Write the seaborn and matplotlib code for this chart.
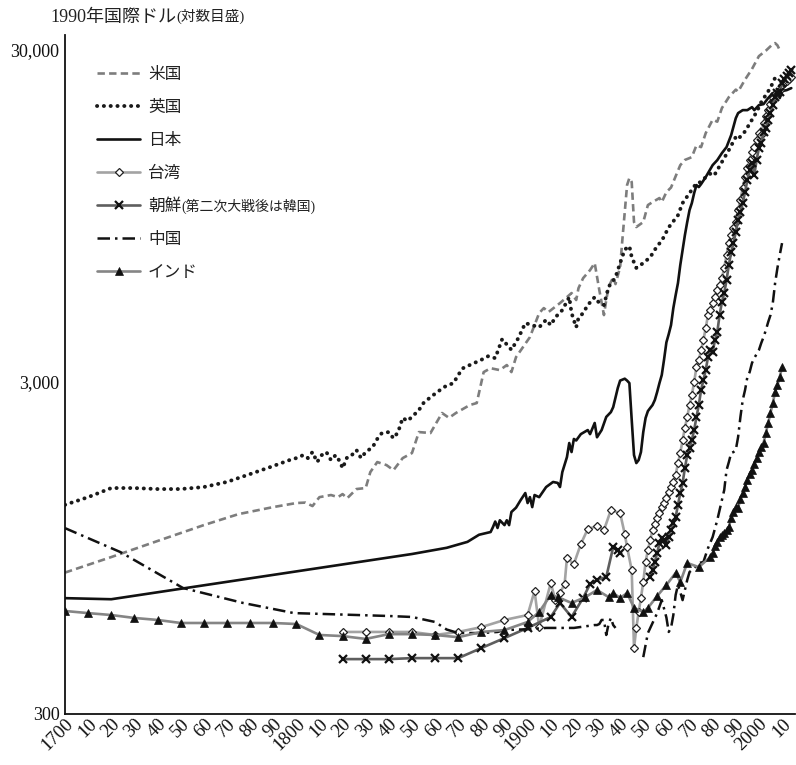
import matplotlib
matplotlib.use("Agg")
import matplotlib.pyplot as plt
import seaborn as sns
from matplotlib.ticker import NullLocator

# ---------------- data (1990 international dollars) ----------------
us_years = [1700,1720,1740,1760,1775,1790,1800,1804,1807,1810,1815,1818,1820,1822,1826,1830,1832,1835,1839,1842,
            1846,1850,1853,1858,1863,1866,1869,1875,1878,1881,1884,1888,1891,1893,1895,1898,1901,1905,1907,1909,
            1914,1917,1919,1921,1922,1924,1927,1929,1931,1933,1934,1935,1937,1938,1940,1941,1943,1944,1945,1946,
            1947,1950,1952,1954,1957,1958,1960,1962,1964,1966,1968,1970,1971,1973,1975,1977,1980,1982,1984,1987,
            1990,1991,1994,1997,2000,2003,2006,2007,2008,2009]
us_vals = [800,891,996,1112,1200,1260,1296,1300,1269,1350,1370,1350,1379,1340,1428,1438,1606,1722,1686,1628,
           1770,1833,2120,2106,2420,2340,2420,2557,2593,3214,3302,3258,3375,3214,3566,3822,4097,4840,5010,4873,
           5187,5405,5560,5298,5753,6166,6520,6846,5677,4773,5298,5800,6210,5918,6657,8100,11757,12350,12010,9100,
           8790,9100,10235,10450,10747,10450,11200,11560,12500,13500,14000,14180,14280,15500,15300,16860,18500,18250,20060,21640,
           22800,22480,24440,26300,28760,29870,31260,31480,31000,30000]

uk_years = [1700,1710,1720,1730,1740,1750,1760,1770,1780,1790,1797,1800,1803,1805,1807,1809,1811,1813,1815,1817,
            1819,1820,1822,1824,1826,1828,1830,1833,1835,1837,1840,1842,1844,1846,1848,1850,1853,1855,1858,1861,
            1864,1868,1870,1872,1875,1880,1883,1886,1889,1893,1896,1899,1902,1905,1908,1910,1912,1915,1918,1919,
            1921,1922,1924,1926,1929,1931,1933,1935,1938,1940,1942,1944,1945,1947,1950,1953,1956,1958,1961,1965,
            1967,1970,1973,1975,1977,1980,1981,1984,1987,1990,1991,1994,1999,2001,2005,2007,2008]
uk_vals = [1280,1350,1438,1438,1428,1428,1448,1500,1584,1675,1745,1770,1807,1770,1846,1722,1807,1846,1745,1807,
           1722,1650,1782,1807,1872,1770,1846,1910,2021,2106,2120,2030,2120,2340,2290,2355,2470,2593,2700,2800,
           2900,2980,3150,3300,3375,3500,3590,3540,4040,3750,4070,4515,4450,4385,4620,4450,4700,4940,5405,4840,
           4385,4680,4840,5115,5405,5187,5115,5800,6210,6846,7520,7700,7140,6620,6846,7130,7700,7990,8770,9540,
           10380,11120,11920,12010,12430,12870,12690,13800,14990,16410,16180,17060,19520,20900,23100,24750,24000]

jp_years = [1700,1720,1850,1865,1874,1879,1884,1885,1886,1887,1888,1890,1891,1892,1893,1895,1897,1899,1900,1901,
            1902,1903,1905,1908,1911,1913,1914,1915,1917,1918,1919,1920,1921,1923,1926,1927,1929,1930,1932,1934,
            1936,1937,1939,1940,1942,1943,1944,1945,1946,1947,1948,1949,1950,1951,1952,1953,1954,1955,1956,1957,
            1958,1959,1960,1961,1962,1963,1964,1965,1966,1967,1968,1969,1970,1971,1972,1973,1974,1975,1977,1980,
            1982,1984,1986,1988,1990,1991,1993,1995,1997,1998,2000,2002,2004,2006,2008,2009,2010,2012,2014]
jp_vals = [670,665,910,950,990,1040,1060,1096,1140,1090,1150,1112,1150,1112,1218,1255,1323,1389,1296,1350,
           1260,1370,1350,1448,1500,1490,1448,1606,1782,1965,1846,2021,2000,2090,2150,2090,2258,2045,2150,2355,
           2435,2520,2880,3030,3070,3030,2978,2310,1807,1710,1746,1846,2120,2337,2452,2505,2557,2648,2799,2978,
           3150,3510,3950,4180,4453,5010,5480,5960,6750,7490,8312,9097,9884,10378,11123,11757,11596,11839,12429,13506,
           13981,14678,15302,16630,18700,19371,19776,19776,20190,19776,20475,20618,21497,22253,22408,21497,22560,22718,23036]

tw_years = [1820,1830,1840,1850,1860,1870,1880,1890,1900,1903,1905,1910,1912,1914,1916,1917,1920,1923,1926,1930,
            1933,1936,1940,1942,1943,1945,
            1946,1947,1948,1949,1950,1951,1952,1953,1954,1955,1956,1957,1958,1959,1960,1961,1962,1963,1964,1965,
            1966,1967,1968,1969,1970,1971,1972,1973,1974,1975,1976,1977,1978,1979,1980,1981,1982,1983,1984,1985,
            1986,1987,1988,1989,1990,1991,1992,1993,1994,1995,1996,1997,1998,1999,2000,2001,2002,2003,2004,2005,
            2006,2007,2008,2009,2010,2011,2012,2013,2014]
tw_vals = [530,530,530,530,519,530,548,576,596,704,549,744,661,694,739,885,849,975,1082,1104,
           1074,1234,1209,1045,955,814,
           474,545,608,671,749,861,935,1002,1074,1120,1168,1209,1260,1296,1341,1398,1448,1499,1573,1710,
           1833,2006,2180,2353,2557,2741,3000,3328,3493,3744,4012,4362,4773,4941,5187,5407,5676,5877,6170,6613,
           7236,7863,8312,8727,9097,9884,10595,11517,12429,13230,13981,14780,15302,16062,16863,16630,18073,18972,19776,20618,
           21497,22099,22408,22718,23522,23851,24183,24527,24864]

kr_pre_years = [1820,1830,1840,1850,1860,1870,1880,1890,1900,1910,1914,1919,1924,1927,1930,1934,1937,1939,1940]
kr_pre_vals = [439,439,439,442,442,442,474,508,545,588,648,588,671,739,760,776,955,935,916]
kr_post_years = [1953,1954,1955,1956,1957,1958,1959,1960,1961,1962,1963,1964,1965,1966,1967,1968,1969,
                 1970,1971,1972,1973,1974,1975,1976,1977,1978,1979,1980,1981,1982,1983,1984,1985,1986,1987,1988,1989,
                 1990,1991,1992,1993,1994,1995,1996,1997,1998,1999,2000,2001,2002,2003,2004,2005,2006,2007,2008,2009,
                 2010,2011,2012,2013,2014]
kr_post_vals = [776,814,861,916,982,1017,1002,968,1024,1074,1128,1176,1278,1389,1488,1652,1807,
                1898,2006,2150,2353,2557,2837,3041,3259,3567,3744,3693,4012,4242,4773,5223,5559,6084,6751,7387,7863,
                8487,9222,9749,10378,11200,12171,13046,13695,12602,13981,15199,15733,16980,17460,18451,19371,20475,21645,22253,22408,
                23851,24527,25034,25563,26097]

cn_pre_years = [1700,1724,1751,1777,1799,1813,1840,1850,1860,1865,1870,1880,1887,1890,1900,1908,1920,1929,1930,1931,
                1932,1933,1934,1935,1936,1937,1938]
cn_pre_vals = [1089,922,719,648,604,600,592,588,568,539,526,526,530,537,540,545,545,556,556,560,
               576,576,519,560,584,556,545]
cn_post_years = [1950,1952,1956,1958,1960,1961,1962,1963,1964,1965,1966,1967,1968,1969,1970,1972,1974,1976,1977,1978,
                 1980,1982,1984,1985,1986,1987,1988,1989,1990,1991,1992,1993,1994,1995,1996,1997,1998,1999,2000,2001,
                 2002,2003,2004,2005,2006,2007,2008,2009,2010]
cn_post_vals = [445,526,604,661,586,530,545,596,685,734,699,661,709,760,803,825,855,861,904,948,
                1024,1152,1323,1418,1628,1722,1833,1846,1872,2048,2353,2648,2837,3104,3215,3422,3543,3642,3744,3930,
                4097,4300,4547,4773,5187,5960,6613,7236,7863]

in_years = [1700,1710,1720,1730,1740,1750,1760,1770,1780,1790,1800,1810,1820,1830,1840,1850,1860,1870,1880,1890,
            1900,1905,1910,1913,1919,1925,1930,1935,1937,1940,1943,1946,1950,1952,1956,1960,1964,1966,1969,1974,1979,
            1980,1981,1982,1983,1984,1985,1986,1987,1988,1989,1990,1991,1992,1993,1994,1995,1996,1997,1998,1999,
            2000,2001,2002,2003,2004,2005,2006,2007,2008,2009,2010]
in_vals = [613,604,596,584,576,564,564,564,564,564,560,519,515,505,522,522,519,511,530,537,
           568,609,685,675,648,675,709,675,694,671,694,626,609,626,680,734,798,749,855,831,891,
           916,960,990,1024,1035,1052,1075,1096,1170,1220,1260,1255,1330,1389,1450,1521,1590,1628,1700,1770,
           1850,1910,1965,2106,2257,2420,2593,2800,2937,3105,3330]

labels = ["米国", "英国", "日本", "台湾", "朝鮮", "中国", "インド"]
korea_note = "(第二次大戦後は韓国)"
title_main = "1990年国際ドル"
title_note = "(対数目盛)"

x_ticks = [1700,1710,1720,1730,1740,1750,1760,1770,1780,1790,1800,1810,1820,1830,1840,1850,1860,1870,1880,1890,
           1900,1910,1920,1930,1940,1950,1960,1970,1980,1990,2000,2010]
x_ticklabels = ["1700","10","20","30","40","50","60","70","80","90","1800","10","20","30","40","50","60","70","80","90",
                "1900","10","20","30","40","50","60","70","80","90","2000","10"]
y_ticks = [300, 3000, 30000]
y_ticklabels = ["300", "3,000", "30,000"]

# ---------------- style ----------------
sns.set_theme(style="white")
plt.rcParams['font.family'] = ['Liberation Serif', 'Noto Sans CJK JP', 'DejaVu Sans']
plt.rcParams['legend.numpoints'] = 1

fig = plt.figure(figsize=(7.96, 7.65), dpi=100)
ax = fig.add_axes([65/796, 51/765, 730/796, 679/765])

handles = []

def draw(xs, ys, **kw):
    sns.lineplot(x=xs, y=ys, ax=ax, errorbar=None, estimator=None, sort=False, **kw)
    return ax.lines[-1]

handles.append(draw(us_years, us_vals, color="#7d7d7d", linewidth=1.9, linestyle=(0, (2.8, 1.6))))
handles.append(draw(uk_years, uk_vals, color="#1a1a1a", linewidth=2.8, linestyle=(0, (0.05, 1.7)),
                    dash_capstyle="round"))
handles.append(draw(jp_years, jp_vals, color="#111111", linewidth=1.9))
handles.append(draw(tw_years, tw_vals, color="#a3a3a3", linewidth=1.9, marker="D", markersize=4.3,
                    markerfacecolor="white", markeredgecolor="#222222", markeredgewidth=0.9))
handles.append(draw(kr_pre_years, kr_pre_vals, color="#5e5e5e", linewidth=1.9, marker="x", markersize=5.5,
                    markeredgecolor="#111111", markeredgewidth=1.6))
draw(kr_post_years, kr_post_vals, color="#5e5e5e", linewidth=1.9, marker="x", markersize=5.5,
     markeredgecolor="#111111", markeredgewidth=1.6)
handles.append(draw(cn_pre_years, cn_pre_vals, color="#111111", linewidth=1.8, linestyle=(0, (5, 2, 1, 2))))
draw(cn_post_years, cn_post_vals, color="#111111", linewidth=1.8, linestyle=(0, (5, 2, 1, 2)))
handles.append(draw(in_years, in_vals, color="#858585", linewidth=1.9, marker="^", markersize=5.2,
                    markerfacecolor="#111111", markeredgecolor="#111111", markeredgewidth=0.5))

ax.set_yscale("log")
ax.set_xlim(1700, 2015.6)
ax.set_ylim(300, 33300)
ax.set_xlabel("")
ax.set_ylabel("")

ax.set_yticks(y_ticks)
ax.set_yticklabels(y_ticklabels, fontsize=13)
ax.yaxis.set_minor_locator(NullLocator())
ax.set_xticks(x_ticks)
ax.set_xticklabels(x_ticklabels, fontsize=13.5, rotation=45, ha="right", rotation_mode="anchor")
ax.tick_params(axis="both", direction="in", length=5, width=1.1, color="#111111", labelcolor="#111111")
ax.tick_params(axis="x", pad=1)
ax.tick_params(axis="y", pad=4)

for s in ["top", "right"]:
    ax.spines[s].set_visible(False)
for s in ["left", "bottom"]:
    ax.spines[s].set_color("#111111")
    ax.spines[s].set_linewidth(1.3)

leg = ax.legend(handles, labels, loc="upper left", bbox_to_anchor=(0.044, 0.953), frameon=False,
                fontsize=12, handlelength=2.6, handletextpad=0.45, labelspacing=1.02,
                borderpad=0, borderaxespad=0)
for t in leg.get_texts():
    t.set_color("#222222")

kr_text = leg.get_texts()[4]
ax.annotate(korea_note, xy=(1, 0.08), xycoords=kr_text, ha="left", va="bottom", fontsize=10, color="#222222")

tt = fig.text(50/796, 1 - 17/765, title_main, fontsize=13, va="center", ha="left", color="#222222")
fig.canvas.draw()
ax.annotate(title_note, xy=(1, 0.08), xycoords=tt, ha="left", va="bottom", fontsize=10.5, color="#222222")

fig.savefig("out.png", dpi=100, facecolor="white")
